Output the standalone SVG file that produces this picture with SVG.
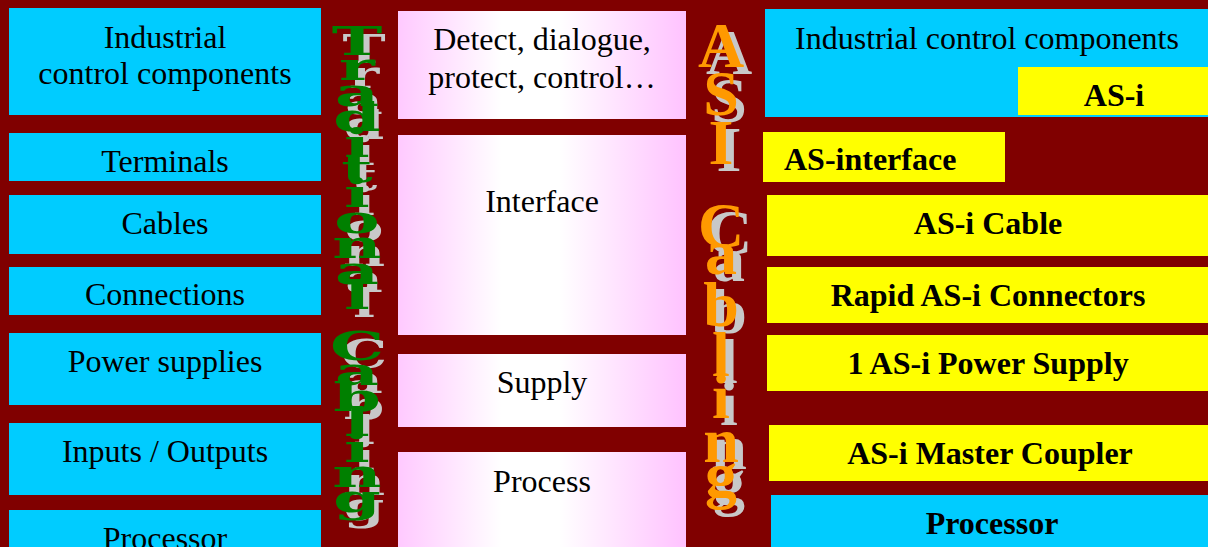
<svg xmlns="http://www.w3.org/2000/svg" width="1208" height="547" viewBox="0 0 1208 547">
  <defs>
    <linearGradient id="pinkGrad" x1="0" y1="0" x2="1" y2="0">
      <stop offset="0" stop-color="#FFC9FF"/>
      <stop offset="0.36" stop-color="#FFFFFF"/>
      <stop offset="0.56" stop-color="#FFFFFF"/>
      <stop offset="1" stop-color="#FFC2FF"/>
    </linearGradient>
    <style>
      .cyan { fill: #00CCFF; }
      .yellow { fill: #FFFF00; }
      .pink { fill: url(#pinkGrad); }
      .t { font-family: "Liberation Serif", "Times New Roman", serif; font-size: 32px; fill: #000; text-anchor: middle; }
      .b { font-weight: bold; }
      .trad { font-family: "DejaVu Serif", "Liberation Serif", serif; font-size: 40px; font-weight: bold; text-anchor: middle; }
      .asi { font-family: "Liberation Serif", "Times New Roman", serif; font-size: 64px; font-weight: bold; text-anchor: middle; }
      .shadow { fill: #C8C8C8; }
      .green { fill: #008000; }
      .orange { fill: #FF9900; }
    </style>
  </defs>

  <rect x="0" y="0" width="1208" height="547" fill="#800000"/>

  <!-- Left column: traditional -->
  <g id="left-industrial">
    <rect class="cyan" x="9" y="8" width="312" height="107"/>
    <text class="t" x="165" y="48">Industrial</text>
    <text class="t" x="165" y="84">control components</text>
  </g>
  <g id="left-terminals">
    <rect class="cyan" x="9" y="133" width="312" height="48"/>
    <text class="t" x="165" y="172">Terminals</text>
  </g>
  <g id="left-cables">
    <rect class="cyan" x="9" y="195" width="312" height="59"/>
    <text class="t" x="165" y="234">Cables</text>
  </g>
  <g id="left-connections">
    <rect class="cyan" x="9" y="267" width="312" height="48"/>
    <text class="t" x="165" y="305">Connections</text>
  </g>
  <g id="left-power">
    <rect class="cyan" x="9" y="333" width="312" height="72"/>
    <text class="t" x="165" y="372">Power supplies</text>
  </g>
  <g id="left-io">
    <rect class="cyan" x="9" y="423" width="312" height="72"/>
    <text class="t" x="165" y="462">Inputs / Outputs</text>
  </g>
  <g id="left-processor">
    <rect class="cyan" x="9" y="510" width="312" height="40"/>
    <text class="t" x="165" y="549">Processor</text>
  </g>

  <!-- Middle column: functions -->
  <g id="mid-detect">
    <rect class="pink" x="398" y="11" width="288" height="108"/>
    <text class="t" x="542" y="50">Detect, dialogue,</text>
    <text class="t" x="542" y="88">protect, control…</text>
  </g>
  <g id="mid-interface">
    <rect class="pink" x="398" y="135" width="288" height="200"/>
    <text class="t" x="542" y="212">Interface</text>
  </g>
  <g id="mid-supply">
    <rect class="pink" x="398" y="354" width="288" height="73"/>
    <text class="t" x="542" y="393">Supply</text>
  </g>
  <g id="mid-process">
    <rect class="pink" x="398" y="452" width="288" height="100"/>
    <text class="t" x="542" y="492">Process</text>
  </g>

  <!-- Right column: AS-i -->
  <g id="right-industrial">
    <rect class="cyan" x="765" y="9" width="443" height="108"/>
    <text class="t" x="987" y="49">Industrial control components</text>
  </g>
  <g id="right-asi">
    <rect class="yellow" x="1018" y="67" width="190" height="48"/>
    <text class="t b" x="1114" y="106">AS-i</text>
  </g>
  <g id="right-asinterface">
    <rect class="yellow" x="763" y="132" width="242" height="50"/>
    <text class="t b" x="784" y="170" style="text-anchor:start">AS-interface</text>
  </g>
  <g id="right-cable">
    <rect class="yellow" x="767" y="195" width="441" height="61"/>
    <text class="t b" x="988" y="234">AS-i Cable</text>
  </g>
  <g id="right-connectors">
    <rect class="yellow" x="767" y="267" width="441" height="56"/>
    <text class="t b" x="988" y="306">Rapid AS-i Connectors</text>
  </g>
  <g id="right-power">
    <rect class="yellow" x="767" y="335" width="441" height="56"/>
    <text class="t b" x="988" y="374">1 AS-i Power Supply</text>
  </g>
  <g id="right-master">
    <rect class="yellow" x="769" y="425" width="439" height="56"/>
    <text class="t b" x="990" y="464">AS-i Master Coupler</text>
  </g>
  <g id="right-processor">
    <rect class="cyan" x="771" y="495" width="437" height="55"/>
    <text class="t b" x="992" y="534">Processor</text>
  </g>

  <!-- Vertical title: Traditional Cabling -->
  <g id="title-traditional">
    <g transform="translate(364,8) scale(1.45,1)">
      <text class="trad shadow"><tspan x="0" y="55">T</tspan><tspan x="0" y="80">r</tspan><tspan x="0" y="106">a</tspan><tspan x="0" y="131">d</tspan><tspan x="0" y="157">i</tspan><tspan x="0" y="182">t</tspan><tspan x="0" y="207">i</tspan><tspan x="0" y="233">o</tspan><tspan x="0" y="258">n</tspan><tspan x="0" y="284">a</tspan><tspan x="0" y="309">l</tspan><tspan x="0" y="360">C</tspan><tspan x="0" y="385">a</tspan><tspan x="0" y="411">b</tspan><tspan x="0" y="436">l</tspan><tspan x="0" y="462">i</tspan><tspan x="0" y="487">n</tspan><tspan x="0" y="512">g</tspan></text>
    </g>
    <g transform="translate(357,0) scale(1.7,1)">
      <text class="trad green"><tspan x="0" y="55">T</tspan><tspan x="0" y="80">r</tspan><tspan x="0" y="106">a</tspan><tspan x="0" y="131">d</tspan><tspan x="0" y="157">i</tspan><tspan x="0" y="182">t</tspan><tspan x="0" y="207">i</tspan><tspan x="0" y="233">o</tspan><tspan x="0" y="258">n</tspan><tspan x="0" y="284">a</tspan><tspan x="0" y="309">l</tspan><tspan x="0" y="360">C</tspan><tspan x="0" y="385">a</tspan><tspan x="0" y="411">b</tspan><tspan x="0" y="436">l</tspan><tspan x="0" y="462">i</tspan><tspan x="0" y="487">n</tspan><tspan x="0" y="512">g</tspan></text>
    </g>
  </g>

  <!-- Vertical title: ASI Cabling -->
  <g id="title-asi">
    <text class="asi shadow"><tspan x="729" y="74">A</tspan><tspan x="729" y="122">S</tspan><tspan x="729" y="171">I</tspan><tspan x="729" y="254">C</tspan><tspan x="729" y="281">a</tspan><tspan x="729" y="333">b</tspan><tspan x="729" y="383">l</tspan><tspan x="729" y="425">i</tspan><tspan x="729" y="469">n</tspan><tspan x="729" y="503">g</tspan></text>
    <text class="asi orange"><tspan x="721" y="67">A</tspan><tspan x="721" y="115">S</tspan><tspan x="721" y="164">I</tspan><tspan x="721" y="247">C</tspan><tspan x="721" y="274">a</tspan><tspan x="721" y="326">b</tspan><tspan x="721" y="376">l</tspan><tspan x="721" y="418">i</tspan><tspan x="721" y="462">n</tspan><tspan x="721" y="496">g</tspan></text>
  </g>

  <g id="connectors"/>
</svg>
